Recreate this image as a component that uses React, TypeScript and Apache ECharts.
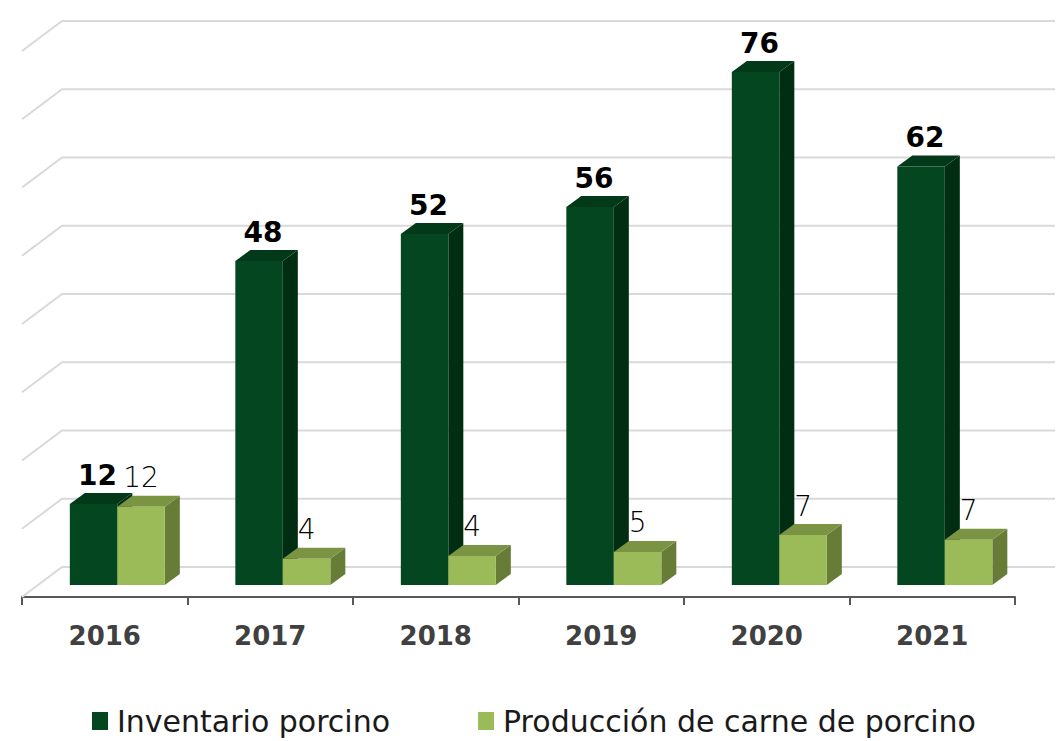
import React, { useEffect, useRef } from "react";
import * as echarts from "echarts";

const years = ["2016", "2017", "2018", "2019", "2020", "2021"];
const inventario = [12, 48, 52, 56, 76, 62];
const produccion = [11.6, 3.9, 4.3, 4.9, 7.4, 6.7];
const wallTicks = [0, 10, 20, 30, 40, 50, 60, 70, 80];
const seriesNames = ["Inventario porcino", "Producción de carne de porcino"];

const DARK = { front: "#03461f", top: "#023a19", side: "#012d13" };
const LIGHT = { front: "#9bbb59", top: "#7b9443", side: "#677c37" };

const DX = 15;
const DY = -11;
const LIFT = 12;
const FONT = "'DejaVu Sans', sans-serif";

function makeBar(isDark: boolean) {
  const pal = isDark ? DARK : LIGHT;
  return (params: any, api: any) => {
    const ci = api.value(0);
    const v = api.value(1);
    const base = api.coord([ci, 0]);
    const top = api.coord([ci, v]);
    const bw = api.size([1, 0])[0];
    const w = bw * 0.287;
    const left = base[0] - bw * 0.211 + (isDark ? 0 : w);
    const yb = base[1] - LIFT;
    const yt = top[1] - LIFT;
    return {
      type: "group",
      children: [
        {
          type: "polygon",
          shape: { points: [[left + w, yb], [left + w + DX, yb + DY], [left + w + DX, yt + DY], [left + w, yt]] },
          style: { fill: pal.side },
        },
        {
          type: "polygon",
          shape: { points: [[left, yt], [left + DX, yt + DY], [left + w + DX, yt + DY], [left + w, yt]] },
          style: { fill: pal.top },
        },
        {
          type: "rect",
          shape: { x: left, y: yt, width: w, height: yb - yt },
          style: { fill: pal.front },
        },
        {
          type: "text",
          x: left + w / 2 + (isDark ? 4 : 0),
          y: yt + DY - 4,
          style: {
            text: String(Math.round(v)),
            fill: "#000000",
            font: (isDark ? "bold " : "200 ") + "28px " + FONT,
            textAlign: "center",
            textVerticalAlign: "bottom",
          },
        },
      ],
    };
  };
}

function renderWall(params: any, api: any) {
  const v = api.value(1);
  const cs = params.coordSys;
  const base = api.coord([0, 0])[1];
  const y = api.coord([0, v])[1];
  const backY = base - 30 - (base - y) * 1.011;
  const x0 = cs.x;
  const x1 = cs.x + cs.width;
  return {
    type: "polyline",
    shape: { points: [[x0, backY + 30], [x0 + 40, backY], [x1 + 40, backY]] },
    style: { stroke: "#d9d9d9", lineWidth: 2, fill: "none" },
    z2: 0,
  };
}

export default function App() {
  const ref = useRef<HTMLDivElement>(null);
  useEffect(() => {
    if (!ref.current) return;
    const chart = echarts.init(ref.current, undefined, { renderer: "svg" });
    chart.setOption({
      animation: false,
      backgroundColor: "#ffffff",
      grid: { left: 22, right: 49, top: 57, bottom: 144 },
      legend: {
        data: seriesNames,
        left: 92,
        top: 704,
        padding: 0,
        icon: "rect",
        itemWidth: 16,
        itemHeight: 18,
        itemGap: 88,
        textStyle: {
          fontFamily: FONT,
          fontSize: 30,
          lineHeight: 34,
          color: "#1a1a1a",
          padding: [0, 0, 0, 4],
        },
      },
      xAxis: {
        type: "category",
        data: years,
        boundaryGap: true,
        axisLine: { lineStyle: { color: "#595959", width: 2 } },
        axisTick: { show: true, length: 8, lineStyle: { color: "#595959", width: 2 } },
        axisLabel: {
          margin: 26,
          fontFamily: FONT,
          fontWeight: "bold",
          fontSize: 26,
          color: "#404040",
        },
        splitLine: { show: false },
      },
      yAxis: {
        type: "value",
        min: 0,
        max: 80,
        interval: 10,
        show: false,
        splitLine: { show: false },
      },
      series: [
        {
          type: "custom",
          name: "wall",
          renderItem: renderWall,
          data: wallTicks.map((t) => [0, t]),
          encode: { x: 0, y: 1 },
          clip: false,
          silent: true,
          z: 1,
        },
        {
          type: "custom",
          name: seriesNames[0],
          renderItem: makeBar(true),
          data: inventario.map((v, i) => [i, v]),
          encode: { x: 0, y: 1 },
          itemStyle: { color: DARK.front },
          clip: false,
          z: 2,
        },
        {
          type: "custom",
          name: seriesNames[1],
          renderItem: makeBar(false),
          data: produccion.map((v, i) => [i, v]),
          encode: { x: 0, y: 1 },
          itemStyle: { color: LIGHT.front },
          clip: false,
          z: 3,
        },
      ],
    });
    return () => chart.dispose();
  }, []);
  return <div ref={ref} style={{ position: "fixed", left: 0, top: 0, width: 1064, height: 741 }} />;
}
